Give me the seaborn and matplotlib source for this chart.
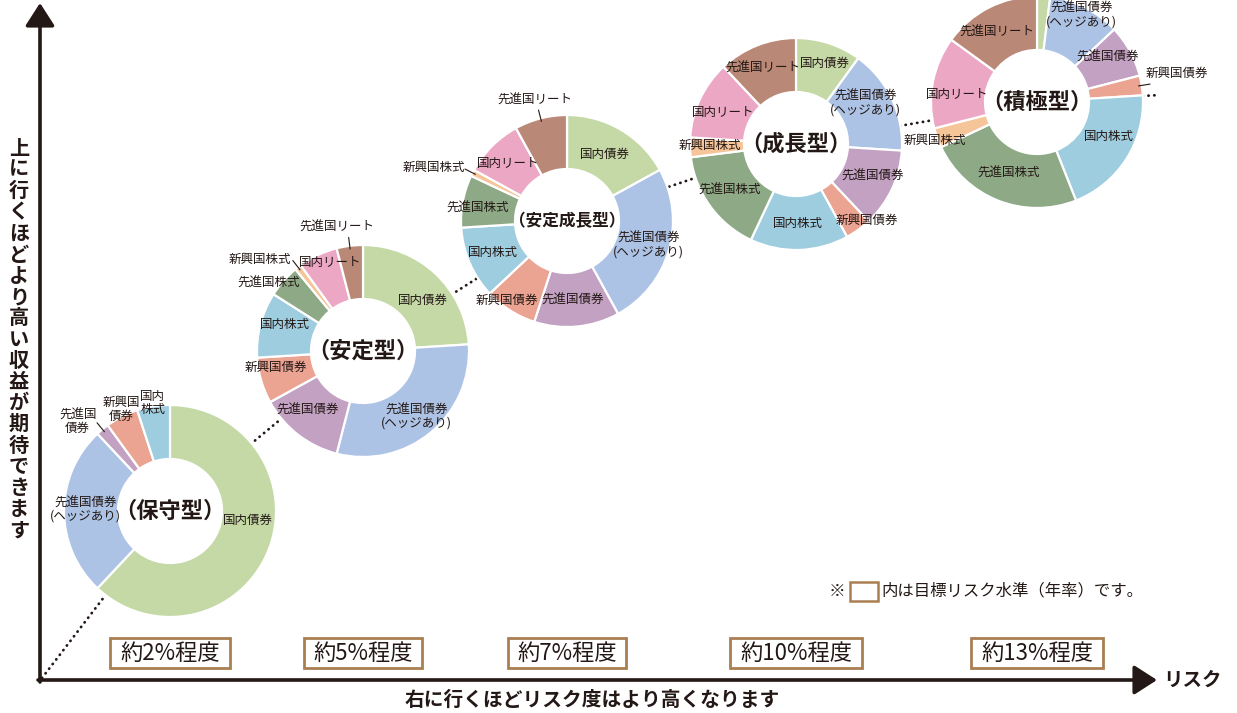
import matplotlib
matplotlib.use("Agg")
import matplotlib.pyplot as plt
import seaborn as sns
import numpy as np
from matplotlib.patches import Circle, Rectangle

# ---------------- data ----------------
categories = ['国内債券', '先進国債券\n(ヘッジあり)', '先進国債券', '新興国債券', '国内株式',
              '先進国株式', '新興国株式', '国内リート', '先進国リート']
portfolio_names = ['（保守型）', '（安定型）', '（安定成長型）', '（成長型）', '（積極型）']
conservative = [62, 26, 2, 5, 5, 0, 0, 0, 0]
stable = [24, 30, 13, 7, 10, 5, 1, 6, 4]
stable_growth = [17, 25, 13, 8, 11, 8, 1, 9, 8]
growth = [10, 16, 12, 4, 15, 16, 3, 12, 12]
aggressive = [2, 11, 8, 3, 20, 24, 3, 14, 15]
risk_labels = ['約2%程度', '約5%程度', '約7%程度', '約10%程度', '約13%程度']
x_title = '右に行くほどリスク度はより高くなります'
y_title = '上に行くほどより高い収益が期待できます'
x_end_label = 'リスク'
note_prefix = '※'
note_text = '内は目標リスク水準（年率）です。'

portfolio_values = [conservative, stable, stable_growth, growth, aggressive]

# ---------------- style / layout ----------------
palette = ['#c5d9a7', '#adc3e5', '#c2a1c3', '#eba392', '#9fcde0',
           '#8ea986', '#f5c499', '#eca7c4', '#b98877']
DARK = '#231815'
BROWN = '#a97f52'
W, H = 1237, 713
R_OUT, R_IN = 106, 52
centers_px = [(170, 511), (363, 351), (567, 221), (796, 144), (1037, 102)]
name_sizes = [16, 16, 12, 16, 16]
box_widths = [120, 118, 118, 132, 132]

# label placement: category index -> (angle clockwise from 12 o'clock, radius factor)
label_layout = [
    {0: (97, 0.74), 1: (271, 0.80), 2: (314, 1.21), 3: (334.6, 1.06), 4: (351, 1.03)},
    {0: (49.6, 0.74), 1: (140.7, 0.80), 2: (223, 0.76), 3: (259.7, 0.84), 4: (288.4, 0.78),
     5: (305.6, 1.10), 6: (311.5, 1.30), 7: (339.4, 0.89), 8: (348, 1.19)},
    {0: (29.9, 0.72), 1: (106.5, 0.80), 2: (175.7, 0.75), 3: (217, 0.94), 4: (246.6, 0.76),
     5: (278.3, 0.85), 6: (292, 1.35), 7: (314.5, 0.78), 8: (345, 1.18)},
    {0: (19.7, 0.81), 1: (59.3, 0.76), 2: (113, 0.79), 3: (137, 0.98), 4: (178.5, 0.75),
     5: (235, 0.76), 6: (269, 0.81), 7: (293, 0.75), 8: (336.5, 0.78)},
    {1: (27.3, 0.92), 2: (57.6, 0.79), 3: (78.3, 1.35), 4: (116, 0.75),
     5: (202, 0.72), 6: (249.6, 1.03), 7: (275, 0.76), 8: (330, 0.76)},
]
label_text_override = [{2: '先進国\n債券', 3: '新興国\n債券', 4: '国内\n株式'}, {}, {}, {}, {}]
leaders = [{2}, {6, 8}, {6, 8}, set(), {3}]

sns.set_theme(style="white")
plt.rcParams['font.family'] = ['Noto Sans CJK JP', 'DejaVu Sans']

fig = plt.figure(figsize=(W / 100, H / 100), dpi=100)
ax = fig.add_axes([0, 0, 1, 1])


def P(x, y):
    return (x, H - y)


def polar(cx, cy, theta, r):
    t = np.deg2rad(theta)
    return (cx + r * np.sin(t), cy + r * np.cos(t))


# dotted path through the donut centres
path_px = [(42, 678)] + centers_px + [(1160, 95)]
ax.plot([p[0] for p in path_px], [H - p[1] for p in path_px], color=DARK,
        lw=2.0, ls=(0, (0.1, 2.0)), dash_capstyle='round', zorder=0.5)

for i, vals in enumerate(portfolio_values):
    cx, cy = P(*centers_px[i])
    idx = [k for k, v in enumerate(vals) if v > 0]
    v = [vals[k] for k in idx]
    ax.pie(v, colors=[palette[k] for k in idx], startangle=90, counterclock=False,
           center=(cx, cy), radius=R_OUT, frame=True,
           wedgeprops=dict(width=R_OUT - R_IN, edgecolor='white', linewidth=1.6))
    ax.add_patch(Circle((cx, cy), R_IN, fc='white', ec='none', zorder=1.5))
    ax.text(cx, cy, portfolio_names[i], ha='center', va='center', fontsize=name_sizes[i],
            fontweight='bold', color=DARK, zorder=4)
    # mid angles
    tot = sum(v)
    cum = np.cumsum([0] + v)
    mids = {k: (cum[j] + v[j] / 2) / tot * 360 for j, k in enumerate(idx)}
    for k, (th, rf) in label_layout[i].items():
        txt = label_text_override[i].get(k, categories[k])
        x, y = polar(cx, cy, th, rf * R_OUT)
        ax.text(x, y, txt, ha='center', va='center', fontsize=9, color=DARK,
                linespacing=1.05, zorder=4)
        if k in leaders[i]:
            a = polar(cx, cy, mids[k], R_OUT * 0.97)
            b = polar(cx, cy, mids[k], R_OUT * 1.08)
            ax.plot([a[0], b[0]], [a[1], b[1]], color=DARK, lw=0.8, zorder=4)
    # risk box
    bx = centers_px[i][0]
    bw = box_widths[i]
    ax.add_patch(Rectangle((bx - bw / 2, H - 668), bw, 30, fc='white', ec=BROWN, lw=2.0, zorder=3))
    ax.text(bx, H - 653, risk_labels[i], ha='center', va='center', fontsize=16, color=DARK, zorder=4)

# axes with arrows
ax.annotate('', xy=P(40, 3), xytext=P(40, 682),
            arrowprops=dict(arrowstyle='-|>,head_length=1.4,head_width=0.9', lw=2.6,
                            color=DARK, shrinkA=0, shrinkB=0, mutation_scale=10), zorder=5)
ax.annotate('', xy=P(1157, 680), xytext=P(38, 680),
            arrowprops=dict(arrowstyle='-|>,head_length=1.4,head_width=0.9', lw=2.6,
                            color=DARK, shrinkA=0, shrinkB=0, mutation_scale=10), zorder=5)

ax.text(1163, H - 680, x_end_label, ha='left', va='center', fontsize=14, fontweight='bold', color=DARK)
ax.text(592, H - 700, x_title, ha='center', va='center', fontsize=14.2, fontweight='bold', color=DARK)

# vertical y title, characters stacked
n = len(y_title)
for j, ch in enumerate(y_title):
    yy = 148 + j * (530 - 148) / (n - 1)
    ax.text(19, H - yy, ch, ha='center', va='center', fontsize=14.5, fontweight='bold', color=DARK)

# note
ax.text(837, H - 591, note_prefix, ha='center', va='center', fontsize=12, color=DARK)
ax.add_patch(Rectangle((850, H - 601), 28, 19, fc='white', ec=BROWN, lw=1.8))
ax.text(881, H - 591, note_text, ha='left', va='center', fontsize=11.8, color=DARK)

ax.set_xlim(0, W)
ax.set_ylim(0, H)
ax.set_aspect('auto')
ax.axis('off')
fig.savefig('out.png', dpi=100, facecolor='white')
